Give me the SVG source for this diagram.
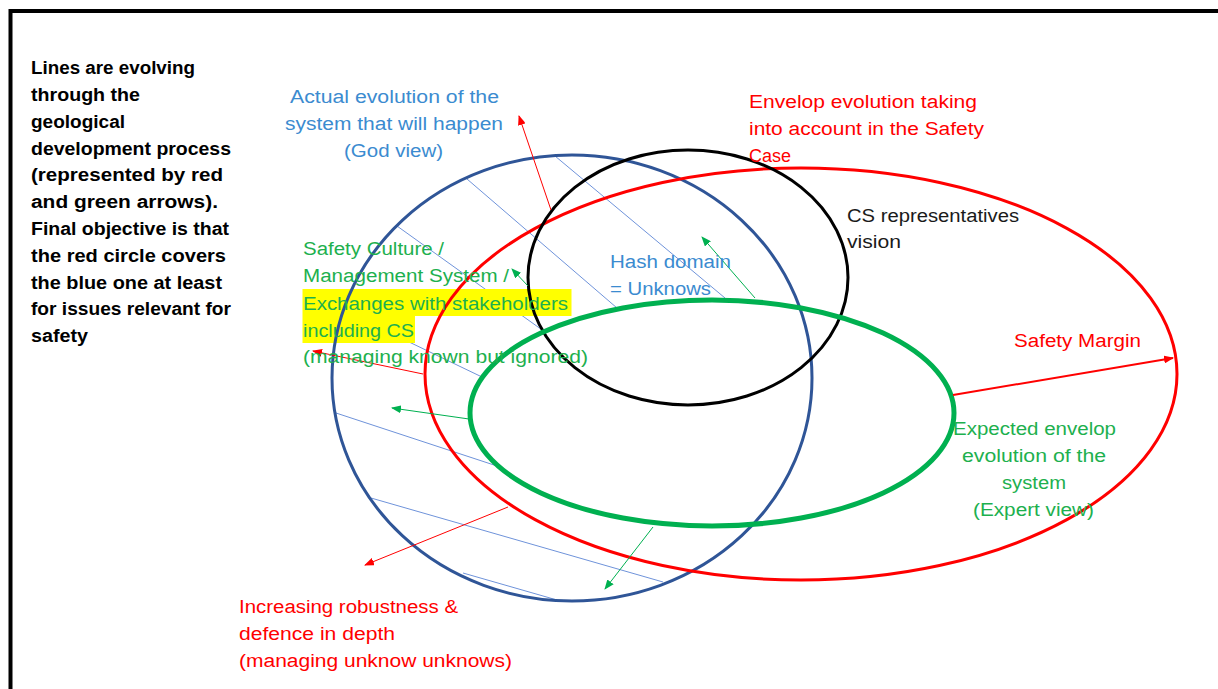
<svg xmlns="http://www.w3.org/2000/svg" width="1218" height="689" viewBox="0 0 1218 689">
<style>
text{font-family:"Liberation Sans",Arial,sans-serif;font-size:18px}
.b{font-weight:bold;fill:#000}
.blue{fill:#3B8BD0}
.red{fill:#FF0000}
.green{fill:#1DB04E}
.blk{fill:#1a1a1a}
.ell{fill:none}
.hatch{stroke:#6F93DA;stroke-width:1;fill:none}
.ar{stroke:#FF0000;stroke-width:1;fill:none;marker-end:url(#ahr)}
.ag{stroke:#00B050;stroke-width:1;fill:none;marker-end:url(#ahg)}
</style>
<defs>
<marker id="ahr" markerUnits="userSpaceOnUse" markerWidth="10" markerHeight="8" refX="9" refY="4" orient="auto"><path d="M0,0 L10,4 L0,8 Z" fill="#FF0000"/></marker>
<marker id="ahg" markerUnits="userSpaceOnUse" markerWidth="10" markerHeight="8" refX="9" refY="4" orient="auto"><path d="M0,0 L10,4 L0,8 Z" fill="#00B050"/></marker>
</defs>
<rect width="1218" height="689" fill="#fff"/>
<path d="M10.5,689 V11 H1218" fill="none" stroke="#000" stroke-width="4"/>

<g id="hatching">
<line class="hatch" x1="555" y1="156" x2="725" y2="298"/>
<line class="hatch" x1="467" y1="179" x2="617" y2="308"/>
<line class="hatch" x1="397" y1="226" x2="545" y2="332"/>
<line class="hatch" x1="407" y1="341" x2="482" y2="377"/>
<line class="hatch" x1="336" y1="413" x2="497" y2="466"/>
<line class="hatch" x1="371" y1="498" x2="663" y2="582"/>
<line class="hatch" x1="463" y1="573" x2="557" y2="600"/>
</g>

<g id="highlight">
<rect x="302.5" y="289" width="269" height="27" fill="#FFFF00"/>
<rect x="302.5" y="316" width="112.5" height="27" fill="#FFFF00"/>
</g>

<g id="blue-ellipse"><ellipse class="ell" cx="572" cy="378" rx="240" ry="223" stroke="#2F5597" stroke-width="3"/></g>
<g id="red-ellipse"><ellipse class="ell" cx="801" cy="374" rx="376" ry="206" stroke="#FF0000" stroke-width="3"/></g>
<g id="black-ellipse"><ellipse class="ell" cx="688" cy="277.5" rx="160" ry="127.5" stroke="#000" stroke-width="3"/></g>
<g id="green-ellipse"><ellipse class="ell" cx="712" cy="413" rx="242" ry="113" stroke="#00B050" stroke-width="5"/></g>

<g id="connectors">
<line class="ar" x1="551" y1="210" x2="519" y2="116"/>
<line class="ar" x1="423" y1="374" x2="313" y2="351"/>
<line class="ar" x1="508" y1="507" x2="365" y2="565"/>
<line class="ar" x1="953" y1="395" x2="1173" y2="358" style="stroke-width:2"/>
<line class="ag" x1="755" y1="298" x2="702" y2="237"/>
<line class="ag" x1="469" y1="419" x2="392" y2="408"/>
<line class="ag" x1="653" y1="527" x2="605" y2="589"/>
<line class="ag" x1="528" y1="286" x2="512" y2="269"/>
</g>

<g id="note">
<text class="b" x="31" y="74" textLength="164" lengthAdjust="spacingAndGlyphs">Lines are evolving</text>
<text class="b" x="31" y="101" textLength="109" lengthAdjust="spacingAndGlyphs">through the</text>
<text class="b" x="31" y="128" textLength="94" lengthAdjust="spacingAndGlyphs">geological</text>
<text class="b" x="31" y="155" textLength="200" lengthAdjust="spacingAndGlyphs">development process</text>
<text class="b" x="31" y="181" textLength="192" lengthAdjust="spacingAndGlyphs">(represented by red</text>
<text class="b" x="31" y="208" textLength="187" lengthAdjust="spacingAndGlyphs">and green arrows).</text>
<text class="b" x="31" y="235" textLength="198" lengthAdjust="spacingAndGlyphs">Final objective is that</text>
<text class="b" x="31" y="262" textLength="195" lengthAdjust="spacingAndGlyphs">the red circle covers</text>
<text class="b" x="31" y="289" textLength="191" lengthAdjust="spacingAndGlyphs">the blue one at least</text>
<text class="b" x="31" y="315" textLength="200" lengthAdjust="spacingAndGlyphs">for issues relevant for</text>
<text class="b" x="31" y="342" textLength="57" lengthAdjust="spacingAndGlyphs">safety</text>
</g>

<g id="god-view">
<text class="blue" x="290" y="103" textLength="209" lengthAdjust="spacingAndGlyphs">Actual evolution of the</text>
<text class="blue" x="285" y="130" textLength="218" lengthAdjust="spacingAndGlyphs">system that will happen</text>
<text class="blue" x="344" y="157" textLength="99" lengthAdjust="spacingAndGlyphs">(God view)</text>
</g>

<g id="safety-case">
<text class="red" x="749" y="108" textLength="228" lengthAdjust="spacingAndGlyphs">Envelop evolution taking</text>
<text class="red" x="749" y="135" textLength="235" lengthAdjust="spacingAndGlyphs">into account in the Safety</text>
<text class="red" x="749" y="162" textLength="42" lengthAdjust="spacingAndGlyphs">Case</text>
</g>

<g id="cs-vision">
<text class="blk" x="847" y="222" textLength="172" lengthAdjust="spacingAndGlyphs">CS representatives</text>
<text class="blk" x="847" y="248" textLength="54" lengthAdjust="spacingAndGlyphs">vision</text>
</g>

<g id="hash-domain">
<text class="blue" x="610" y="268" textLength="121" lengthAdjust="spacingAndGlyphs">Hash domain</text>
<text class="blue" x="610" y="295" textLength="101" lengthAdjust="spacingAndGlyphs">= Unknows</text>
</g>

<g id="safety-culture">
<text class="green" x="303" y="255" textLength="141" lengthAdjust="spacingAndGlyphs">Safety Culture /</text>
<text class="green" x="303" y="282" textLength="206" lengthAdjust="spacingAndGlyphs">Management System /</text>
<text class="green" x="303" y="310" textLength="265" lengthAdjust="spacingAndGlyphs">Exchanges with stakeholders</text>
<text class="green" x="303" y="337" textLength="111" lengthAdjust="spacingAndGlyphs">including CS</text>
<text class="green" x="303" y="363" textLength="285" lengthAdjust="spacingAndGlyphs">(managing known but ignored)</text>
</g>

<g id="safety-margin">
<text class="red" x="1014" y="347" textLength="127" lengthAdjust="spacingAndGlyphs">Safety Margin</text>
</g>

<g id="expert-view">
<text class="green" x="953" y="435" textLength="163" lengthAdjust="spacingAndGlyphs">Expected envelop</text>
<text class="green" x="962" y="462" textLength="144" lengthAdjust="spacingAndGlyphs">evolution of the</text>
<text class="green" x="1002" y="489" textLength="64" lengthAdjust="spacingAndGlyphs">system</text>
<text class="green" x="973" y="516" textLength="121" lengthAdjust="spacingAndGlyphs">(Expert view)</text>
</g>

<g id="robustness">
<text class="red" x="239" y="613" textLength="219" lengthAdjust="spacingAndGlyphs">Increasing robustness &amp;</text>
<text class="red" x="239" y="640" textLength="156" lengthAdjust="spacingAndGlyphs">defence in depth</text>
<text class="red" x="239" y="667" textLength="273" lengthAdjust="spacingAndGlyphs">(managing unknow unknows)</text>
</g>
</svg>
